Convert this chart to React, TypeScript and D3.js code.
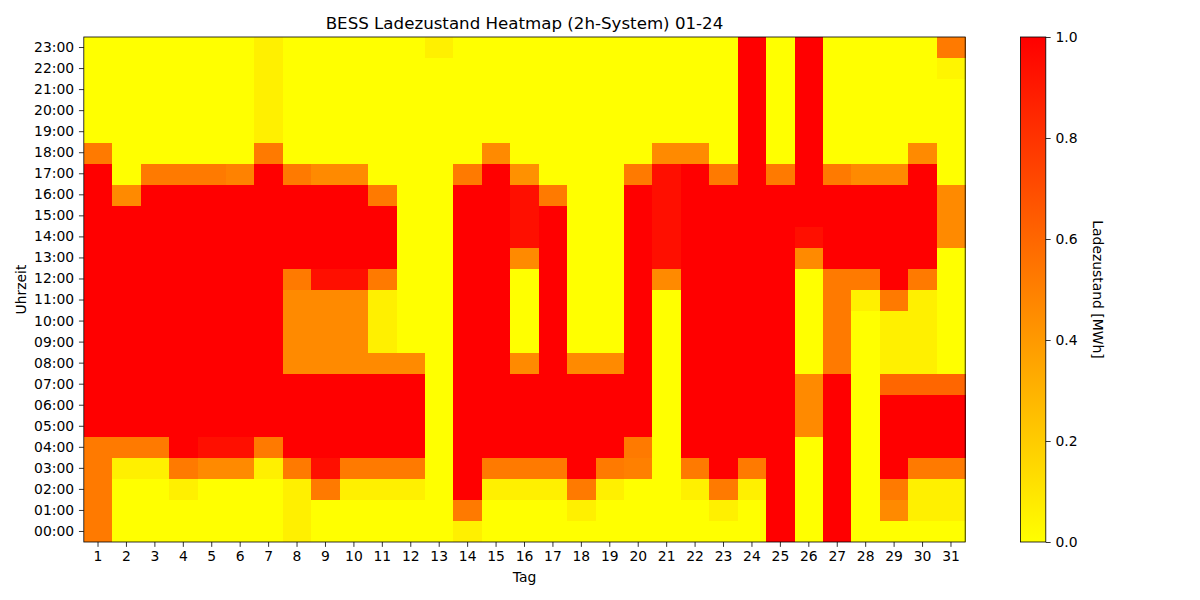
import React, { useEffect, useRef } from "react";
import * as d3 from "d3";

const titleText = "BESS Ladezustand Heatmap (2h-System) 01-24";
const xLabel = "Tag";
const yLabel = "Uhrzeit";
const cbLabel = "Ladezustand [MWh]";

const days = [1, 2, 3, 4, 5, 6, 7, 8, 9, 10, 11, 12, 13, 14, 15, 16, 17, 18, 19, 20, 21, 22, 23, 24, 25, 26, 27, 28, 29, 30, 31];
const hourLabels = [
  "00:00", "01:00", "02:00", "03:00", "04:00", "05:00", "06:00", "07:00",
  "08:00", "09:00", "10:00", "11:00", "12:00", "13:00", "14:00", "15:00",
  "16:00", "17:00", "18:00", "19:00", "20:00", "21:00", "22:00", "23:00",
];
const colorbarTicks = [0, 0.2, 0.4, 0.6, 0.8, 1.0];

// State of charge per day, hours 00:00 .. 23:00
const socByDay: number[][] = [
  /* 1 */ [0.52, 0.52, 0.52, 0.52, 0.52, 1, 1, 1, 1, 1, 1, 1, 1, 1, 1, 1, 1, 1, 0.52, 0, 0, 0, 0, 0],
  /* 2 */ [0, 0, 0, 0.06, 0.52, 1, 1, 1, 1, 1, 1, 1, 1, 1, 1, 1, 0.46, 0, 0, 0, 0, 0, 0, 0],
  /* 3 */ [0, 0, 0, 0.06, 0.52, 1, 1, 1, 1, 1, 1, 1, 1, 1, 1, 1, 1, 0.52, 0, 0, 0, 0, 0, 0],
  /* 4 */ [0, 0, 0.06, 0.52, 1, 1, 1, 1, 1, 1, 1, 1, 1, 1, 1, 1, 1, 0.52, 0, 0, 0, 0, 0, 0],
  /* 5 */ [0, 0, 0, 0.46, 0.94, 1, 1, 1, 1, 1, 1, 1, 1, 1, 1, 1, 1, 0.52, 0, 0, 0, 0, 0, 0],
  /* 6 */ [0, 0, 0, 0.46, 0.94, 1, 1, 1, 1, 1, 1, 1, 1, 1, 1, 1, 1, 0.49, 0, 0, 0, 0, 0, 0],
  /* 7 */ [0, 0, 0, 0.06, 0.52, 1, 1, 1, 1, 1, 1, 1, 1, 1, 1, 1, 1, 1, 0.52, 0.06, 0.06, 0.06, 0.06, 0.06],
  /* 8 */ [0.06, 0.06, 0.06, 0.52, 1, 1, 1, 1, 0.46, 0.46, 0.46, 0.46, 0.52, 1, 1, 1, 1, 0.52, 0, 0, 0, 0, 0, 0],
  /* 9 */ [0, 0, 0.52, 0.94, 1, 1, 1, 1, 0.46, 0.46, 0.46, 0.46, 0.94, 1, 1, 1, 1, 0.46, 0, 0, 0, 0, 0, 0],
  /* 10 */ [0, 0, 0.06, 0.52, 1, 1, 1, 1, 0.46, 0.46, 0.46, 0.46, 0.94, 1, 1, 1, 1, 0.46, 0, 0, 0, 0, 0, 0],
  /* 11 */ [0, 0, 0.06, 0.52, 1, 1, 1, 1, 0.46, 0.06, 0.06, 0.06, 0.52, 1, 1, 1, 0.52, 0, 0, 0, 0, 0, 0, 0],
  /* 12 */ [0, 0, 0.06, 0.52, 1, 1, 1, 1, 0.46, 0, 0, 0, 0, 0, 0, 0, 0, 0, 0, 0, 0, 0, 0, 0],
  /* 13 */ [0, 0, 0, 0, 0, 0, 0, 0, 0, 0, 0, 0, 0, 0, 0, 0, 0, 0, 0, 0, 0, 0, 0, 0.06],
  /* 14 */ [0.06, 0.52, 1, 1, 1, 1, 1, 1, 1, 1, 1, 1, 1, 1, 1, 1, 1, 0.52, 0, 0, 0, 0, 0, 0],
  /* 15 */ [0, 0, 0.06, 0.52, 1, 1, 1, 1, 1, 1, 1, 1, 1, 1, 1, 1, 1, 1, 0.46, 0, 0, 0, 0, 0],
  /* 16 */ [0, 0, 0.06, 0.52, 1, 1, 1, 1, 0.46, 0, 0, 0, 0, 0.46, 0.94, 0.94, 0.94, 0.43, 0, 0, 0, 0, 0, 0],
  /* 17 */ [0, 0, 0.06, 0.52, 1, 1, 1, 1, 1, 1, 1, 1, 1, 1, 1, 1, 0.52, 0, 0, 0, 0, 0, 0, 0],
  /* 18 */ [0, 0.06, 0.52, 1, 1, 1, 1, 1, 0.46, 0, 0, 0, 0, 0, 0, 0, 0, 0, 0, 0, 0, 0, 0, 0],
  /* 19 */ [0, 0, 0.06, 0.52, 1, 1, 1, 1, 0.46, 0, 0, 0, 0, 0, 0, 0, 0, 0, 0, 0, 0, 0, 0, 0],
  /* 20 */ [0, 0, 0, 0.5, 0.52, 1, 1, 1, 1, 1, 1, 1, 1, 1, 1, 1, 1, 0.52, 0, 0, 0, 0, 0, 0],
  /* 21 */ [0, 0, 0, 0, 0, 0, 0, 0, 0, 0, 0, 0, 0.46, 0.94, 0.94, 0.94, 0.94, 0.94, 0.46, 0, 0, 0, 0, 0],
  /* 22 */ [0, 0, 0.06, 0.52, 1, 1, 1, 1, 1, 1, 1, 1, 1, 1, 1, 1, 1, 1, 0.46, 0, 0, 0, 0, 0],
  /* 23 */ [0, 0.06, 0.52, 1, 1, 1, 1, 1, 1, 1, 1, 1, 1, 1, 1, 1, 1, 0.52, 0, 0, 0, 0, 0, 0],
  /* 24 */ [0, 0, 0.06, 0.52, 1, 1, 1, 1, 1, 1, 1, 1, 1, 1, 1, 1, 1, 1, 1, 1, 1, 1, 1, 1],
  /* 25 */ [1, 1, 1, 1, 1, 1, 1, 1, 1, 1, 1, 1, 1, 1, 1, 1, 1, 0.52, 0, 0, 0, 0, 0, 0],
  /* 26 */ [0, 0, 0, 0, 0, 0.46, 0.46, 0.46, 0, 0, 0, 0, 0, 0.46, 0.94, 1, 1, 1, 1, 1, 1, 1, 1, 1],
  /* 27 */ [1, 1, 1, 1, 1, 1, 1, 1, 0.52, 0.52, 0.52, 0.52, 0.52, 1, 1, 1, 1, 0.52, 0, 0, 0, 0, 0, 0],
  /* 28 */ [0, 0, 0, 0, 0, 0, 0, 0, 0, 0, 0, 0.06, 0.52, 1, 1, 1, 1, 0.46, 0, 0, 0, 0, 0, 0],
  /* 29 */ [0, 0.46, 0.52, 1, 1, 1, 1, 0.6, 0.06, 0.06, 0.06, 0.52, 1, 1, 1, 1, 1, 0.46, 0, 0, 0, 0, 0, 0],
  /* 30 */ [0, 0.06, 0.06, 0.52, 1, 1, 1, 0.6, 0.06, 0.06, 0.06, 0.06, 0.52, 1, 1, 1, 1, 1, 0.46, 0, 0, 0, 0, 0],
  /* 31 */ [0, 0.06, 0.06, 0.52, 1, 1, 1, 0.6, 0, 0, 0, 0, 0, 0, 0.46, 0.46, 0.46, 0, 0, 0, 0, 0, 0.04, 0.52],
];

const W = 1200;
const H = 600;
const FONT = "DejaVu Sans, Verdana, sans-serif";

export default function App() {
  const ref = useRef<SVGSVGElement | null>(null);

  useEffect(() => {
    const svg = d3.select(ref.current);
    svg.selectAll("*").remove();

    const left = 83.8, right = 965.2, top = 37, bottom = 542;
    const cbLeft = 1020.5, cbW = 25.3;

    const x = d3.scaleBand<number>().domain(days).range([left, right]).padding(0);
    const y = d3.scaleBand<string>().domain(hourLabels).range([bottom, top]).padding(0);
    const color = d3.scaleLinear<string>().domain([0, 1]).range(["#ffff00", "#ff0000"]).clamp(true);

    svg.append("rect").attr("width", W).attr("height", H).attr("fill", "#ffffff");

    // Cells
    const cells: { d: number; h: string; v: number }[] = [];
    days.forEach((d, i) => {
      hourLabels.forEach((h, j) => {
        cells.push({ d, h, v: socByDay[i][j] });
      });
    });
    svg.append("g")
      .selectAll("rect")
      .data(cells)
      .join("rect")
      .attr("x", (c) => x(c.d)!)
      .attr("y", (c) => y(c.h)!)
      .attr("width", x.bandwidth() + 0.4)
      .attr("height", y.bandwidth() + 0.4)
      .attr("fill", (c) => color(c.v))
      .attr("shape-rendering", "crispEdges");

    // Frame
    svg.append("rect")
      .attr("x", left).attr("y", top)
      .attr("width", right - left).attr("height", bottom - top)
      .attr("fill", "none").attr("stroke", "#000").attr("stroke-width", 0.8);

    // X axis
    const xAxis = d3.axisBottom(x).tickSize(4.86).tickPadding(4.2).tickSizeOuter(0);
    const gx = svg.append("g").attr("transform", `translate(0,${bottom})`).call(xAxis);
    gx.select(".domain").remove();
    gx.selectAll("line").attr("stroke", "#000").attr("stroke-width", 0.8);
    gx.selectAll("text").attr("font-family", FONT).attr("font-size", 13.9).attr("fill", "#000");

    // Y axis
    const yAxis = d3.axisLeft(y).tickSize(4.86).tickPadding(4.86).tickSizeOuter(0);
    const gy = svg.append("g").attr("transform", `translate(${left},0)`).call(yAxis);
    gy.select(".domain").remove();
    gy.selectAll("line").attr("stroke", "#000").attr("stroke-width", 0.8);
    gy.selectAll("text").attr("font-family", FONT).attr("font-size", 13.9).attr("fill", "#000");

    // Title
    svg.append("text")
      .attr("x", (left + right) / 2).attr("y", 29)
      .attr("text-anchor", "middle")
      .attr("font-family", FONT).attr("font-size", 16.67).attr("fill", "#000")
      .text(titleText);

    // Axis labels
    svg.append("text")
      .attr("x", (left + right) / 2).attr("y", 582)
      .attr("text-anchor", "middle")
      .attr("font-family", FONT).attr("font-size", 13.9).attr("fill", "#000")
      .text(xLabel);
    svg.append("text")
      .attr("transform", `translate(26,${(top + bottom) / 2}) rotate(-90)`)
      .attr("text-anchor", "middle")
      .attr("font-family", FONT).attr("font-size", 13.9).attr("fill", "#000")
      .text(yLabel);

    // Colorbar
    const defs = svg.append("defs");
    const grad = defs.append("linearGradient")
      .attr("id", "cbgrad").attr("x1", 0).attr("y1", 1).attr("x2", 0).attr("y2", 0);
    [0, 0.25, 0.5, 0.75, 1].forEach((t) => {
      grad.append("stop").attr("offset", t).attr("stop-color", color(t));
    });
    const cbScale = d3.scaleLinear().domain([0, 1]).range([bottom, top]);
    svg.append("rect")
      .attr("x", cbLeft).attr("y", top)
      .attr("width", cbW).attr("height", bottom - top)
      .attr("fill", "url(#cbgrad)")
      .attr("stroke", "#000").attr("stroke-width", 0.8);
    const cbAxis = d3.axisRight(cbScale).tickValues(colorbarTicks).tickFormat(d3.format(".1f"))
      .tickSize(4.86).tickPadding(4.86).tickSizeOuter(0);
    const gc = svg.append("g").attr("transform", `translate(${cbLeft + cbW},0)`).call(cbAxis);
    gc.select(".domain").remove();
    gc.selectAll("line").attr("stroke", "#000").attr("stroke-width", 0.8);
    gc.selectAll("text").attr("font-family", FONT).attr("font-size", 13.9).attr("fill", "#000");

    svg.append("text")
      .attr("transform", `translate(1093,${(top + bottom) / 2}) rotate(90)`)
      .attr("text-anchor", "middle")
      .attr("font-family", FONT).attr("font-size", 13.9).attr("fill", "#000")
      .text(cbLabel);
  }, []);

  return (
    <svg
      ref={ref}
      width={W}
      height={H}
      style={{ position: "absolute", left: 0, top: 0, display: "block" }}
    />
  );
}
